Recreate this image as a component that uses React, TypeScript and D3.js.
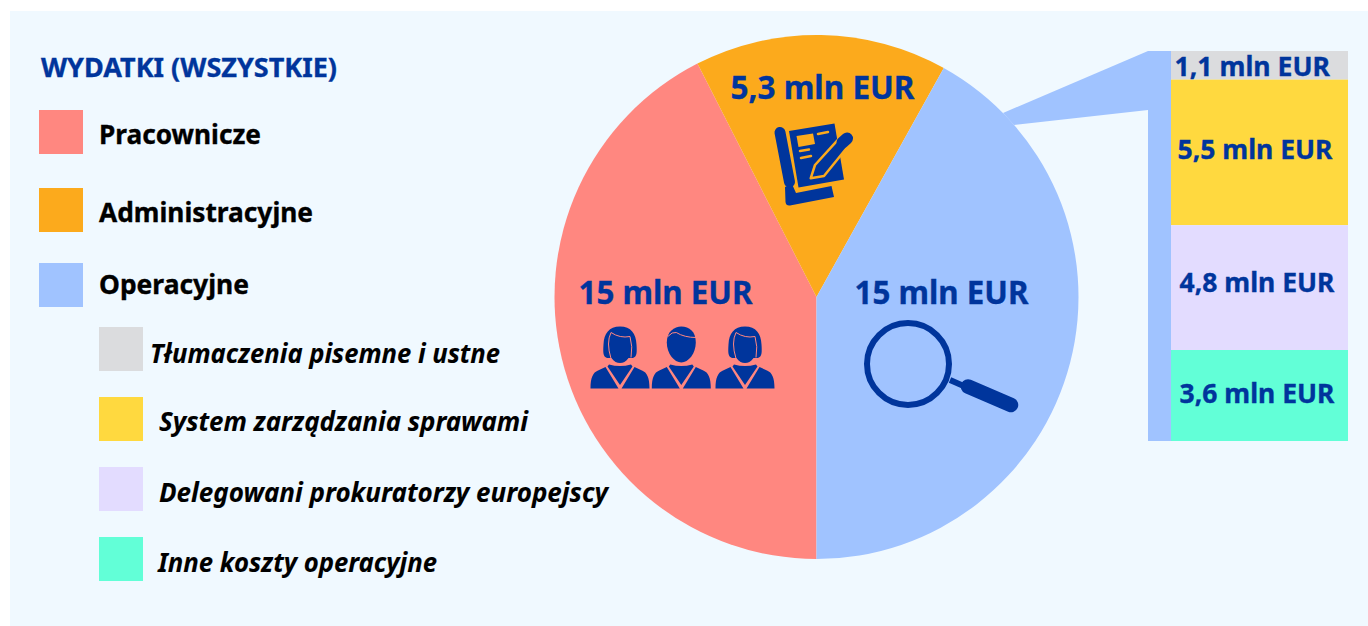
import React from "react";
import * as d3 from "d3";

// ---------- data ----------
const sliceNames = ["Pracownicze", "Administracyjne", "Operacyjne"];
const sliceLabels = ["15 mln EUR", "5,3 mln EUR", "15 mln EUR"];
// slice sizes (the picture's wedges differ slightly from the rounded labels)
const sliceValues = [15, 5.5, 14.8];
const sliceColors = ["#ff8780", "#fcaa1c", "#a0c3ff"];

const stackNames = [
  "Tłumaczenia pisemne i ustne",
  "System zarządzania sprawami",
  "Delegowani prokuratorzy europejscy",
  "Inne koszty operacyjne",
];
const stackLabels = ["1,1 mln EUR", "5,5 mln EUR", "4,8 mln EUR", "3,6 mln EUR"];
// bar heights
const stackValues = [1.1, 5.6, 4.8, 3.5];
const stackColors = ["#dbdcde", "#ffd93f", "#e3dcff", "#62ffd7"];

const legendTitle = "WYDATKI (WSZYSTKIE)";

// ---------- layout ----------
const NAVY = "#00359c";
const PANEL = "#f0f9ff";
const FONT = "'Noto Sans', 'Open Sans', sans-serif";
const CX = 816, CY = 297, R = 262;

const mainLegendLayout = [
  { swatchY: 110, baseY: 144, textW: 162 },
  { swatchY: 188, baseY: 222, textW: 214 },
  { swatchY: 263, baseY: 294, textW: 150 },
];
const subLegendLayout = [
  { swatchY: 327, textX: 150, baseY: 363, textW: 350 },
  { swatchY: 397, textX: 159, baseY: 431, textW: 369 },
  { swatchY: 467, textX: 159, baseY: 502, textW: 449 },
  { swatchY: 537, textX: 158, baseY: 572, textW: 279 },
];
const pieLabelLayout = [
  { x: 578.5, y: 304, w: 174 },
  { x: 730.5, y: 99, w: 184 },
  { x: 854.5, y: 304, w: 174 },
];
const stackLabelLayout = [
  { x: 1174.5, y: 76, w: 155.5 },
  { x: 1177.5, y: 159, w: 155 },
  { x: 1179.5, y: 292, w: 155 },
  { x: 1179.5, y: 403, w: 155 },
];

function Label(p: { x: number; y: number; w: number; size: number; fill: string; italic?: boolean; children: string }) {
  return (
    <text
      x={p.x}
      y={p.y}
      fontFamily={FONT}
      fontWeight={700}
      fontStyle={p.italic ? "italic" : "normal"}
      fontSize={p.size}
      fill={p.fill}
      stroke={p.fill}
      strokeWidth={p.italic ? 0.1 : 0.35}
      textLength={p.w}
      lengthAdjust="spacingAndGlyphs"
    >
      {p.children}
    </text>
  );
}

function Person({ x, female }: { x: number; female: boolean }) {
  const pink = sliceColors[0];
  return (
    <g transform={`translate(${x},388.5)`} fill={NAVY}>
      <path d="M-29.5,0 C-29.5,-11 -27,-16 -22,-18 L-14.5,-21.5 L-1.5,0 Z" />
      <path d="M29.5,0 C29.5,-11 27,-16 22,-18 L14.5,-21.5 L1.5,0 Z" />
      <path d="M-11,-24 Q0,-21 11,-24 L12.5,-22 L0,-3.5 L-12.5,-22 Z" />
      {female ? (
        <>
          <path d="M0,-62 C-11,-62 -16,-55 -16.5,-44 C-17,-36 -17,-32 -13,-30.5 L13,-30.5 C17,-32 17,-36 16.5,-44 C16,-55 11,-62 0,-62 Z" />
          <ellipse cx={0} cy={-41} rx={11.5} ry={15.5} />
          <path d="M-9,-56 Q0,-50 10,-52 M-9,-56 Q-14,-46 -9,-30" fill="none" stroke={pink} strokeWidth={1} />
          <path d="M10,-52 Q13,-42 11,-31" fill="none" stroke={pink} strokeWidth={1} />
        </>
      ) : (
        <>
          <path d="M-14.5,-46 C-14.5,-57 -7,-62 0,-62 C8,-62 14.5,-57 14.5,-46 C14.5,-35 7,-26 0,-26 C-7,-26 -14.5,-35 -14.5,-46 Z" />
          <path d="M-13.5,-52 Q-9,-57 -5,-56 Q3,-51 15,-51" fill="none" stroke={pink} strokeWidth={1} />
        </>
      )}
    </g>
  );
}

function ScrollIcon() {
  const orange = sliceColors[1];
  return (
    <g>
      <polygon points="789,131 834.5,123.5 844,179.5 798.5,187.5" fill={NAVY} />
      <path d="M780,132.5 L789.5,182" stroke={NAVY} strokeWidth={11} strokeLinecap="round" fill="none" />
      <path d="M785,187 Q789,185 792,184 L796,193 L831.5,186 L834,197 L790,205.5 Q786,206 785.5,202 Z" fill={NAVY} />
      <polygon points="796.5,136 813,133.5 815,144 798.5,147" fill={orange} />
      <path d="M818,134 L828,132 M800,151 L809,149.5 M801,158 L811,156" stroke={orange} strokeWidth={2.5} strokeLinecap="round" />
      <path d="M810.7,178.3 L815,165 L838.3,139.3 L847.3,147.3 L824,176 Z" fill={NAVY} stroke={orange} strokeWidth={2.5} strokeLinejoin="round" />
      <path d="M842.5,142.5 L847,138.5" stroke={NAVY} strokeWidth={12} strokeLinecap="round" />
    </g>
  );
}

function MagnifierIcon() {
  return (
    <g>
      <circle cx={908} cy={364} r={41} fill="none" stroke={NAVY} strokeWidth={6} />
      <path d="M950,380 L966,387" stroke={NAVY} strokeWidth={6} fill="none" />
      <path d="M968,386.5 L1011,405" stroke={NAVY} strokeWidth={14.5} strokeLinecap="round" fill="none" />
    </g>
  );
}

export default function App() {
  const pie = d3.pie<number>().sort(null).startAngle(Math.PI).endAngle(3 * Math.PI);
  const arc = d3.arc<d3.PieArcDatum<number>>().innerRadius(0).outerRadius(R);
  const arcs = pie(sliceValues);

  const total = d3.sum(stackValues);
  const stackY = d3.scaleLinear().domain([0, total]).range([51, 441]);
  const cumulative = d3.cumsum(stackValues);

  return (
    <svg
      width={1368}
      height={626}
      viewBox="0 0 1368 626"
      style={{ position: "absolute", left: 0, top: 0, display: "block", background: "#fff" }}
    >
      <rect x={10} y={11} width={1358} height={615} fill={PANEL} />

      <Label x={41} y={77} w={296} size={26} fill={NAVY}>{legendTitle}</Label>

      {sliceNames.map((n, i) => (
        <g key={n}>
          <rect x={39} y={mainLegendLayout[i].swatchY} width={44} height={44} fill={sliceColors[i]} />
          <Label x={99} y={mainLegendLayout[i].baseY} w={mainLegendLayout[i].textW} size={27} fill="#000">{n}</Label>
        </g>
      ))}
      {stackNames.map((n, i) => (
        <g key={n}>
          <rect x={99} y={subLegendLayout[i].swatchY} width={44} height={44} fill={stackColors[i]} />
          <Label x={subLegendLayout[i].textX} y={subLegendLayout[i].baseY} w={subLegendLayout[i].textW} size={27} fill="#000" italic>{n}</Label>
        </g>
      ))}

      <g transform={`translate(${CX + 0.5},${CY})`}>
        {arcs.map((a, i) => (
          <path key={i} d={arc(a) as string} fill={sliceColors[i]} />
        ))}
      </g>

      {/* callout linking the pie to the breakdown bar */}
      <polygon points="1148,51 1003,113 1014,125 1148,110" fill={sliceColors[2]} />
      <rect x={1148} y={stackY(0)} width={23} height={stackY(total) - stackY(0)} fill={sliceColors[2]} />

      {stackValues.map((v, i) => {
        const y0 = stackY(cumulative[i] - v);
        const y1 = stackY(cumulative[i]);
        return <rect key={i} x={1171} y={y0} width={177} height={y1 - y0} fill={stackColors[i]} />;
      })}

      {sliceLabels.map((t, i) => (
        <Label key={i} x={pieLabelLayout[i].x} y={pieLabelLayout[i].y} w={pieLabelLayout[i].w} size={33} fill={NAVY}>{t}</Label>
      ))}
      {stackLabels.map((t, i) => (
        <Label key={i} x={stackLabelLayout[i].x} y={stackLabelLayout[i].y} w={stackLabelLayout[i].w} size={27} fill={NAVY}>{t}</Label>
      ))}

      <Person x={620} female />
      <Person x={681.3} female={false} />
      <Person x={745} female />
      <ScrollIcon />
      <MagnifierIcon />
    </svg>
  );
}
